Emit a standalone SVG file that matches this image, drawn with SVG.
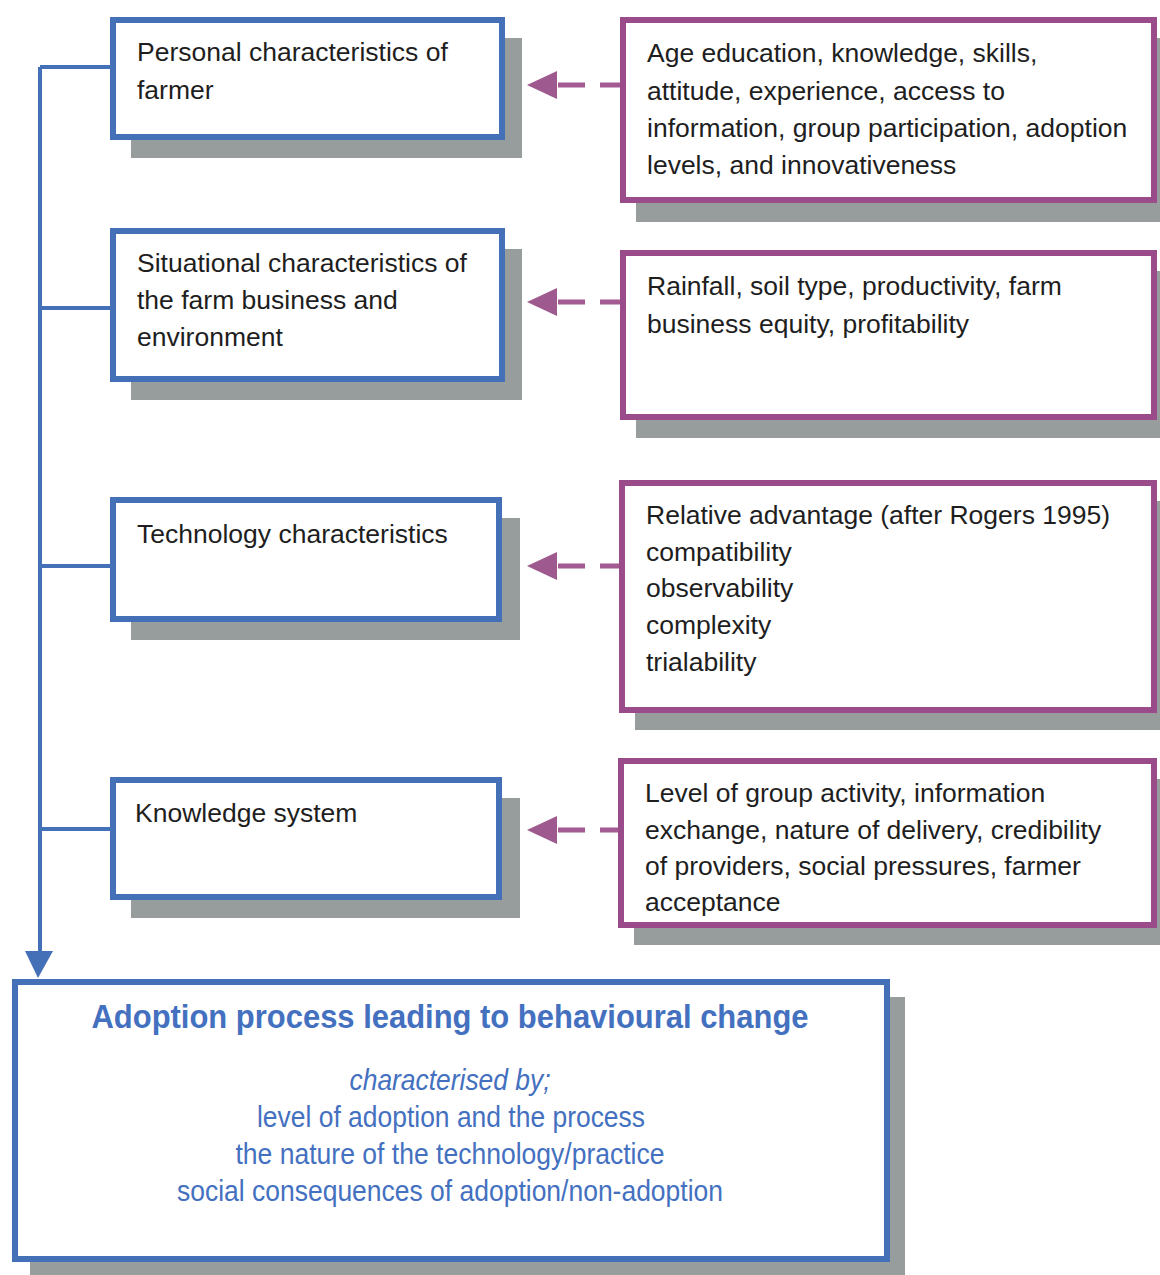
<svg xmlns="http://www.w3.org/2000/svg" width="1160" height="1275" viewBox="0 0 1160 1275">
<style>
.sh{fill:#979d9d}
.lb{fill:#fff;stroke:#4470b8;stroke-width:6}
.rb{fill:#fff;stroke:#9a4c8a;stroke-width:6}
.t{font-family:"Liberation Sans",Arial,sans-serif;font-size:26.5px;fill:#1e1e1e}
.b{font-family:"Liberation Sans",Arial,sans-serif;fill:#4470c0;text-anchor:middle}
.con{stroke:#4470b8;stroke-width:4;fill:none}
.dash{stroke:#a45b92;stroke-width:5;fill:none;stroke-dasharray:20 15 27 100}
</style>
<defs>
<marker id="ah" viewBox="0 0 30 28" refX="30" refY="14" markerWidth="30" markerHeight="28" markerUnits="userSpaceOnUse" orient="auto">
<path d="M0,0 L30,14 L0,28 Z" fill="#9e5a8e"/>
</marker>
</defs>
<g id="connectors">
<path class="con" d="M40,67 V955 M40,67 H110 M40,308 H110 M40,566 H110 M40,829 H110"/>
<path d="M25,951 L53,951 L38,978 Z" fill="#4470b8"/>
<path class="dash" d="M620,85 H527" marker-end="url(#ah)"/>
<path class="dash" d="M620,302 H527" marker-end="url(#ah)"/>
<path class="dash" d="M620,566 H527" marker-end="url(#ah)"/>
<path class="dash" d="M620,830 H527" marker-end="url(#ah)"/>
</g>
<g id="personal">
<rect class="sh" x="131" y="38" width="391" height="120"/>
<rect class="lb" x="113" y="20" width="389" height="117"/>
<text class="t" x="137" y="61">Personal characteristics of</text>
<text class="t" x="137" y="99">farmer</text>
</g>
<g id="situational">
<rect class="sh" x="131" y="249" width="391" height="151"/>
<rect class="lb" x="113" y="231" width="389" height="148"/>
<text class="t" x="137" y="272">Situational characteristics of</text>
<text class="t" x="137" y="309">the farm business and</text>
<text class="t" x="137" y="346">environment</text>
</g>
<g id="technology">
<rect class="sh" x="131" y="518" width="389" height="122"/>
<rect class="lb" x="113" y="500" width="386" height="119"/>
<text class="t" x="137" y="543">Technology characteristics</text>
</g>
<g id="knowledge">
<rect class="sh" x="131" y="798" width="389" height="120"/>
<rect class="lb" x="113" y="780" width="386" height="117"/>
<text class="t" x="135" y="822">Knowledge system</text>
</g>
<g id="personal-detail">
<rect class="sh" x="636" y="38" width="531" height="184"/>
<rect class="rb" x="623" y="20" width="531" height="180"/>
<text class="t" x="647" y="62">Age education, knowledge, skills,</text>
<text class="t" x="647" y="100">attitude, experience, access to</text>
<text class="t" x="647" y="137">information, group participation, adoption</text>
<text class="t" x="647" y="174">levels, and innovativeness</text>
</g>
<g id="situational-detail">
<rect class="sh" x="636" y="271" width="531" height="167"/>
<rect class="rb" x="623" y="253" width="531" height="164"/>
<text class="t" x="647" y="295">Rainfall, soil type, productivity, farm</text>
<text class="t" x="647" y="333">business equity, profitability</text>
</g>
<g id="technology-detail">
<rect class="sh" x="635" y="501" width="532" height="229"/>
<rect class="rb" x="622" y="483" width="532" height="227"/>
<text class="t" x="646" y="524">Relative advantage (after Rogers 1995)</text>
<text class="t" x="646" y="561">compatibility</text>
<text class="t" x="646" y="597">observability</text>
<text class="t" x="646" y="634">complexity</text>
<text class="t" x="646" y="671">trialability</text>
</g>
<g id="knowledge-detail">
<rect class="sh" x="634" y="779" width="533" height="166"/>
<rect class="rb" x="621" y="761" width="533" height="164"/>
<text class="t" x="645" y="802">Level of group activity, information</text>
<text class="t" x="645" y="839">exchange, nature of delivery, credibility</text>
<text class="t" x="645" y="875">of providers, social pressures, farmer</text>
<text class="t" x="645" y="911">acceptance</text>
</g>
<g id="adoption">
<rect class="sh" x="30" y="997" width="875" height="280"/>
<rect class="lb" x="15" y="982" width="872" height="277"/>
<text class="b" x="450" y="1028" font-size="34" font-weight="bold" textLength="717" lengthAdjust="spacingAndGlyphs">Adoption process leading to behavioural change</text>
<text class="b" x="450" y="1090" font-size="29" font-style="italic" textLength="201" lengthAdjust="spacingAndGlyphs">characterised by;</text>
<text class="b" x="451" y="1127" font-size="29" textLength="388" lengthAdjust="spacingAndGlyphs">level of adoption and the process</text>
<text class="b" x="450" y="1164" font-size="29" textLength="429" lengthAdjust="spacingAndGlyphs">the nature of the technology/practice</text>
<text class="b" x="450" y="1201" font-size="29" textLength="546" lengthAdjust="spacingAndGlyphs">social consequences of adoption/non-adoption</text>
</g>
</svg>
